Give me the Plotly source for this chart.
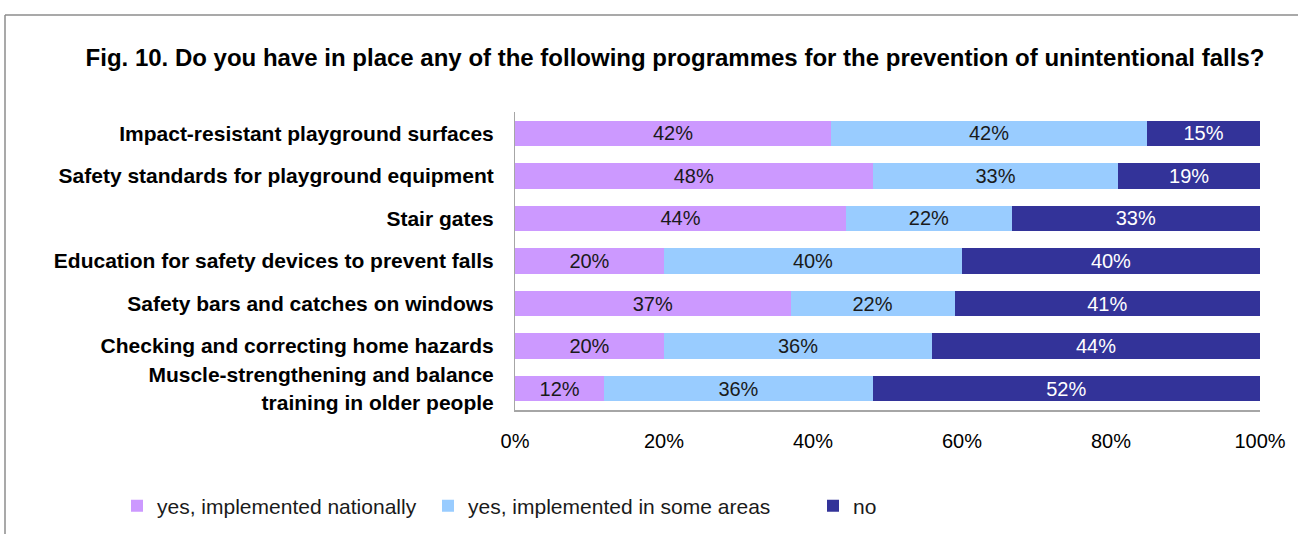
import plotly.graph_objects as go

# Survey responses per programme (percent of countries)
programmes = [
    "Impact-resistant playground surfaces",
    "Safety standards for playground equipment",
    "Stair gates",
    "Education for safety devices to prevent falls",
    "Safety bars and catches on windows",
    "Checking and correcting home hazards",
    "Muscle-strengthening and balance<br>training in older people",
]
nationally = [42, 48, 44, 20, 37, 20, 12]
some_areas = [42, 33, 22, 40, 22, 36, 36]
no_programme = [15, 19, 33, 40, 41, 44, 52]
x_ticks = [0, 20, 40, 60, 80, 100]

series = [
    ("yes, implemented nationally", nationally, "#CC99FF", "#1a1a1a", "legend"),
    ("yes, implemented in some areas", some_areas, "#99CCFF", "#1a1a1a", "legend2"),
    ("no", no_programme, "#333399", "#ffffff", "legend3"),
]

FONT = "Arial, Liberation Sans, sans-serif"

# plot-area geometry in pixels (for placing paper-referenced items)
W, H = 1298, 534
L, R, T, B = 515, 1260, 112, 410
pw, ph = R - L, B - T


def px(x):
    return (x - L) / pw


def py(y):
    return (B - y) / ph


fig = go.Figure()
for name, vals, color, tcolor, leg in series:
    fig.add_trace(go.Bar(
        name=name,
        y=programmes,
        x=vals,
        orientation="h",
        marker=dict(color=color, line=dict(width=0)),
        text=vals,
        texttemplate="%{text}%",
        textposition="inside",
        insidetextanchor="middle",
        constraintext="none",
        textangle=0,
        textfont=dict(family=FONT, size=20, color=tcolor),
        legend=leg,
        showlegend=True,
        hoverinfo="skip",
    ))

legend_common = dict(
    orientation="h",
    xanchor="left",
    yanchor="middle",
    font=dict(family=FONT, size=21, color="#1a1a1a"),
    bgcolor="rgba(0,0,0,0)",
    itemwidth=30,
)

fig.update_layout(
    width=W,
    height=H,
    margin=dict(l=L, r=W - R, t=T, b=H - B, autoexpand=False),
    paper_bgcolor="white",
    plot_bgcolor="white",
    showlegend=True,
    barmode="stack",
    barnorm="percent",
    bargap=0.4,
    uniformtext=dict(mode=False),
    title=dict(
        text="<b>Fig. 10. Do you have in place any of the following programmes for the prevention of unintentional falls?</b>",
        x=675 / W,
        xanchor="center",
        y=1 - 58 / H,
        yanchor="middle",
        font=dict(family=FONT, size=24, color="#000000"),
    ),
    xaxis=dict(
        range=[0, 100],
        tickmode="array",
        tickvals=x_ticks,
        ticktext=[f"{v}%" for v in x_ticks],
        showgrid=False,
        zeroline=False,
        showline=True,
        linecolor="#a6a6a6",
        linewidth=2,
        ticks="",
        ticklabelstandoff=12,
        tickfont=dict(family=FONT, size=20, color="#000000"),
        fixedrange=True,
    ),
    yaxis=dict(
        autorange="reversed",
        showgrid=False,
        zeroline=False,
        showline=True,
        linecolor="#a6a6a6",
        linewidth=1,
        ticks="",
        ticklabelstandoff=16,
        tickfont=dict(family=FONT, size=21, color="#000000", weight="bold"),
        fixedrange=True,
    ),
    legend=dict(x=px(117), y=py(506), **legend_common),
    legend2=dict(x=px(428), y=py(506), **legend_common),
    legend3=dict(x=px(813), y=py(506), **legend_common),
    shapes=[
        # outer frame: top and left rules
        dict(type="line", xref="paper", yref="paper",
             x0=px(5), x1=px(W), y0=py(15), y1=py(15),
             line=dict(color="#8c8c8c", width=1.5)),
        dict(type="line", xref="paper", yref="paper",
             x0=px(5), x1=px(5), y0=py(15), y1=py(H),
             line=dict(color="#8c8c8c", width=1.5)),
    ],
)

fig.write_html("out.html")
